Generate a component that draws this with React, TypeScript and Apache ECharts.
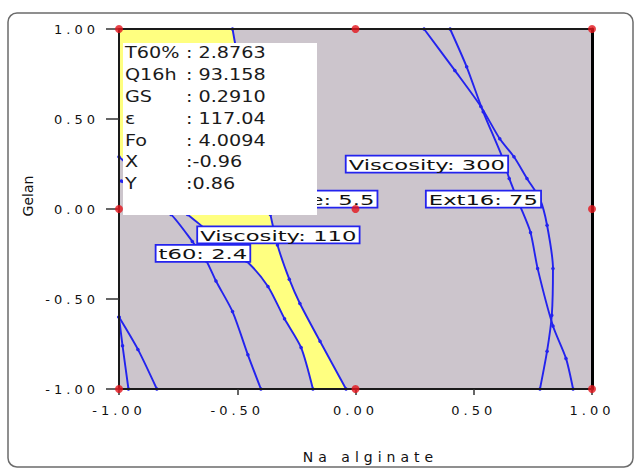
import React, { useEffect, useRef } from "react";
import * as echarts from "echarts";

// ---------- data ----------
const xAxisName = "Na alginate";
const yAxisName = "Gelan";

const designPointsX = [-1, 0, 1, -1, 0, 1, -1, 0, 1];
const designPointsY = [1, 1, 1, 0, 0, 0, -1, -1, -1];

// yellow (feasible) overlay region
const feasibleRegion: number[][] = [
  [-1, 1], [-0.52, 1], [-0.45, 0.5], [-0.36, -0.03], [-0.33, -0.2], [-0.28, -0.39],
  [-0.235, -0.525], [-0.15, -0.735], [-0.04, -1], [-0.18, -1], [-0.23, -0.77],
  [-0.3, -0.61], [-0.37, -0.43], [-0.46, -0.29], [-0.57, -0.18], [-0.71, -0.03],
  [-0.87, 0.14], [-1, 0.29],
];

// contour lines
const contourYellowLeft: number[][] = [
  [-1, 0.29], [-0.87, 0.14], [-0.71, -0.03], [-0.57, -0.18], [-0.46, -0.29],
  [-0.37, -0.43], [-0.3, -0.61], [-0.23, -0.77], [-0.18, -1],
];
const contourYellowRight: number[][] = [
  [-0.52, 1], [-0.45, 0.5], [-0.36, -0.03], [-0.33, -0.2], [-0.28, -0.39],
  [-0.235, -0.525], [-0.15, -0.735], [-0.04, -1],
];
const contourT60: number[][] = [
  [-0.99, 0.155], [-0.87, 0.055], [-0.78, -0.03], [-0.69, -0.18], [-0.63, -0.29],
  [-0.59, -0.4], [-0.52, -0.57], [-0.455, -0.81], [-0.4, -1],
];
const contourCornerA: number[][] = [[-1, -0.6], [-0.92, -0.78], [-0.84, -1]];
const contourCornerB: number[][] = [[-1, -0.6], [-0.985, -0.76], [-0.96, -1]];
const contourViscosity300: number[][] = [
  [0.29, 1], [0.42, 0.77], [0.53, 0.57], [0.61, 0.39], [0.67, 0.29], [0.725, 0.17],
  [0.78, 0.055], [0.81, -0.09], [0.835, -0.33], [0.83, -0.59], [0.81, -0.79], [0.78, -1],
];
const contourExt16: number[][] = [
  [0.4, 1], [0.47, 0.79], [0.54, 0.54], [0.62, 0.29], [0.65, 0.17], [0.695, 0.02],
  [0.74, -0.13], [0.77, -0.33], [0.835, -0.65], [0.89, -0.83], [0.92, -1],
];

// contour flags
const flagLabels = ["Viscosity: 300", "Ext16: 75", "e: 5.5", "Viscosity: 110", "t60: 2.4"];
const flagX = [0.302, 0.541, -0.15, -0.326, -0.645];
const flagY = [0.249, 0.055, 0.055, -0.144, -0.246];

// point read-out box
const infoNames = ["T60%", "Q16h", "GS", "ε", "Fo", "X", "Y"];
const infoValues = [": 2.8763", ": 93.158", ": 0.2910", ": 117.04", ": 4.0094", ":-0.96", ":0.86"];

// ---------- styles ----------
const FONT = "DejaVu Sans";
const BLUE = "#2323EE";
const FLAG_FONT_SIZE = 14;
const FLAG_SCALE = 1.62;
const FLAG_PAD = 3;
const FLAG_EXTRA_LEFT = [0, 0, 44, 0, 0];

let measureCtx: CanvasRenderingContext2D | null = null;
function textWidth(s: string, font: string) {
  if (!measureCtx && typeof document !== "undefined") {
    measureCtx = document.createElement("canvas").getContext("2d");
  }
  if (!measureCtx) return s.length * 8;
  measureCtx.font = font;
  return measureCtx.measureText(s).width;
}

const lineSeries = (name: string, data: number[][]) => ({
  name,
  type: "line",
  data,
  z: 3,
  smooth: 0.25,
  symbol: "circle",
  symbolSize: 3.5,
  showSymbol: true,
  itemStyle: { color: BLUE },
  lineStyle: { color: BLUE, width: 1.9 },
  clip: true,
  silent: true,
});

export default function App() {
  const ref = useRef<HTMLDivElement>(null);

  useEffect(() => {
    const el = ref.current!;
    const chart = echarts.init(el, null, { renderer: "svg" });

    const fmt = (v: number) => v.toFixed(2);
    const tickLabelSet = new Set([-1, -0.5, 0, 0.5, 1].map(fmt));

    const option: any = {
      animation: false,
      backgroundColor: "#ffffff",
      grid: {
        left: 119,
        top: 29,
        width: 473,
        height: 362,
        show: true,
        backgroundColor: "#CCC5CC",
        borderWidth: 0,
      },
      xAxis: [
        {
          type: "value",
          min: -1,
          max: 1,
          interval: 0.5,
          position: "bottom",
          z: 4,
          axisLine: { show: true, onZero: false, lineStyle: { color: "#1a1a1a", width: 2 } },
          axisTick: { show: true, length: 6, lineStyle: { color: "#333", width: 1.5 } },
          axisLabel: { formatter: fmt, margin: 15, color: "#111", fontSize: 13, fontFamily: FONT },
          splitLine: { show: false },
          name: xAxisName,
          nameLocation: "middle",
          nameGap: 61,
          nameTextStyle: { color: "#111", fontSize: 14, fontFamily: FONT, padding: [0, 0, 0, 30] },
        },
        {
          type: "value",
          min: -1,
          max: 1,
          position: "top",
          z: 4,
          axisLine: { show: true, onZero: false, lineStyle: { color: "#1a1a1a", width: 2 } },
          axisTick: { show: false },
          axisLabel: { show: false },
          splitLine: { show: false },
        },
      ],
      yAxis: [
        {
          type: "value",
          min: -1,
          max: 1,
          interval: 0.5,
          position: "left",
          z: 4,
          axisLine: { show: true, onZero: false, lineStyle: { color: "#1a1a1a", width: 2 } },
          axisTick: { show: true, length: 13, lineStyle: { color: "#333", width: 1.5 } },
          axisLabel: { formatter: fmt, margin: 20, color: "#111", fontSize: 13, fontFamily: FONT },
          splitLine: { show: false },
          name: yAxisName,
          nameLocation: "middle",
          nameGap: 84,
          nameRotate: 90,
          nameTextStyle: { color: "#111", fontSize: 14, fontFamily: FONT, padding: [0, 0, 0, 26] },
        },
        {
          type: "value",
          min: -1,
          max: 1,
          position: "right",
          z: 4,
          axisLine: { show: true, onZero: false, lineStyle: { color: "#000", width: 3 } },
          axisTick: { show: false },
          axisLabel: { show: false },
          splitLine: { show: false },
        },
      ],
      series: [
        {
          name: "feasible",
          type: "custom",
          z: 1,
          clip: true,
          silent: true,
          data: feasibleRegion,
          encode: { x: 0, y: 1 },
          renderItem: (params: any, api: any) => {
            if (params.dataIndex !== 0) return null;
            const pts = feasibleRegion.map((p) => api.coord(p));
            return { type: "polygon", shape: { points: pts }, style: { fill: "#FFFF80" } };
          },
        },
        lineSeries("yellowLeft", contourYellowLeft),
        lineSeries("yellowRight", contourYellowRight),
        lineSeries("t60", contourT60),
        lineSeries("cornerA", contourCornerA),
        lineSeries("cornerB", contourCornerB),
        lineSeries("viscosity300", contourViscosity300),
        lineSeries("ext16", contourExt16),
        {
          name: "flags",
          type: "custom",
          z: 5,
          silent: true,
          clip: false,
          data: flagX.map((x, i) => [x, flagY[i]]),
          encode: { x: 0, y: 1 },
          renderItem: (params: any, api: any) => {
            const i = params.dataIndex;
            const [cx, cy] = api.coord([api.value(0), api.value(1)]);
            const text = flagLabels[i];
            const font = `${FLAG_FONT_SIZE}px '${FONT}'`;
            const extra = FLAG_EXTRA_LEFT[i];
            const w = textWidth(text, font) * FLAG_SCALE + FLAG_PAD * 2 + extra;
            const h = 17;
            const x0 = cx - w / 2;
            return {
              type: "group",
              children: [
                {
                  type: "rect",
                  shape: { x: x0, y: cy - h / 2, width: w, height: h },
                  style: { fill: "#ffffff", stroke: BLUE, lineWidth: 1.8 },
                },
                {
                  type: "text",
                  x: x0 + FLAG_PAD + extra,
                  y: cy + 1,
                  scaleX: FLAG_SCALE,
                  style: {
                    text,
                    fontSize: FLAG_FONT_SIZE,
                    fontFamily: FONT,
                    fill: "#111",
                    align: "left",
                    verticalAlign: "middle",
                  },
                },
              ],
            };
          },
        },
        {
          name: "design points",
          type: "scatter",
          z: 8,
          clip: false,
          silent: true,
          symbolSize: 8,
          itemStyle: { color: "#E3141C" },
          data: designPointsX.map((x, i) => [x, designPointsY[i]]),
        },
      ],
      graphic: [
        {
          type: "rect",
          z: 0,
          silent: true,
          shape: { x: 8, y: 13, width: 625, height: 454, r: 9 },
          style: { fill: "none", stroke: "#6b6b6b", lineWidth: 1.5 },
        },
        {
          type: "group",
          z: 20,
          silent: true,
          children: [
            {
              type: "rect",
              z: 20,
              shape: { x: 123, y: 43, width: 194, height: 172 },
              style: { fill: "#ffffff" },
            },
            ...infoNames.map((n, i) => ({
              type: "text",
              z: 21,
              x: 125,
              y: 53 + i * 21.8,
              scaleX: 1.2,
              style: { text: n, fontSize: 16, fontFamily: FONT, fill: "#1a1a1a", align: "left", verticalAlign: "middle" },
            })),
            ...infoValues.map((v, i) => ({
              type: "text",
              z: 21,
              x: 186,
              y: 53 + i * 21.8,
              scaleX: 1.2,
              style: { text: v, fontSize: 16, fontFamily: FONT, fill: "#1a1a1a", align: "left", verticalAlign: "middle" },
            })),
          ],
        },
      ],
    };

    chart.setOption(option);

    const fix = () => {
      el.querySelectorAll("text").forEach((t) => {
        const s = (t.textContent || "").trim();
        if (tickLabelSet.has(s)) (t as SVGTextElement).style.letterSpacing = "4px";
        else if (s === xAxisName) (t as SVGTextElement).style.letterSpacing = "5px";
      });
    };
    fix();
    chart.on("finished", fix);

    return () => {
      chart.dispose();
    };
  }, []);

  return (
    <div
      ref={ref}
      style={{ position: "absolute", left: 0, top: 0, width: 635, height: 469, background: "#fff" }}
    />
  );
}
